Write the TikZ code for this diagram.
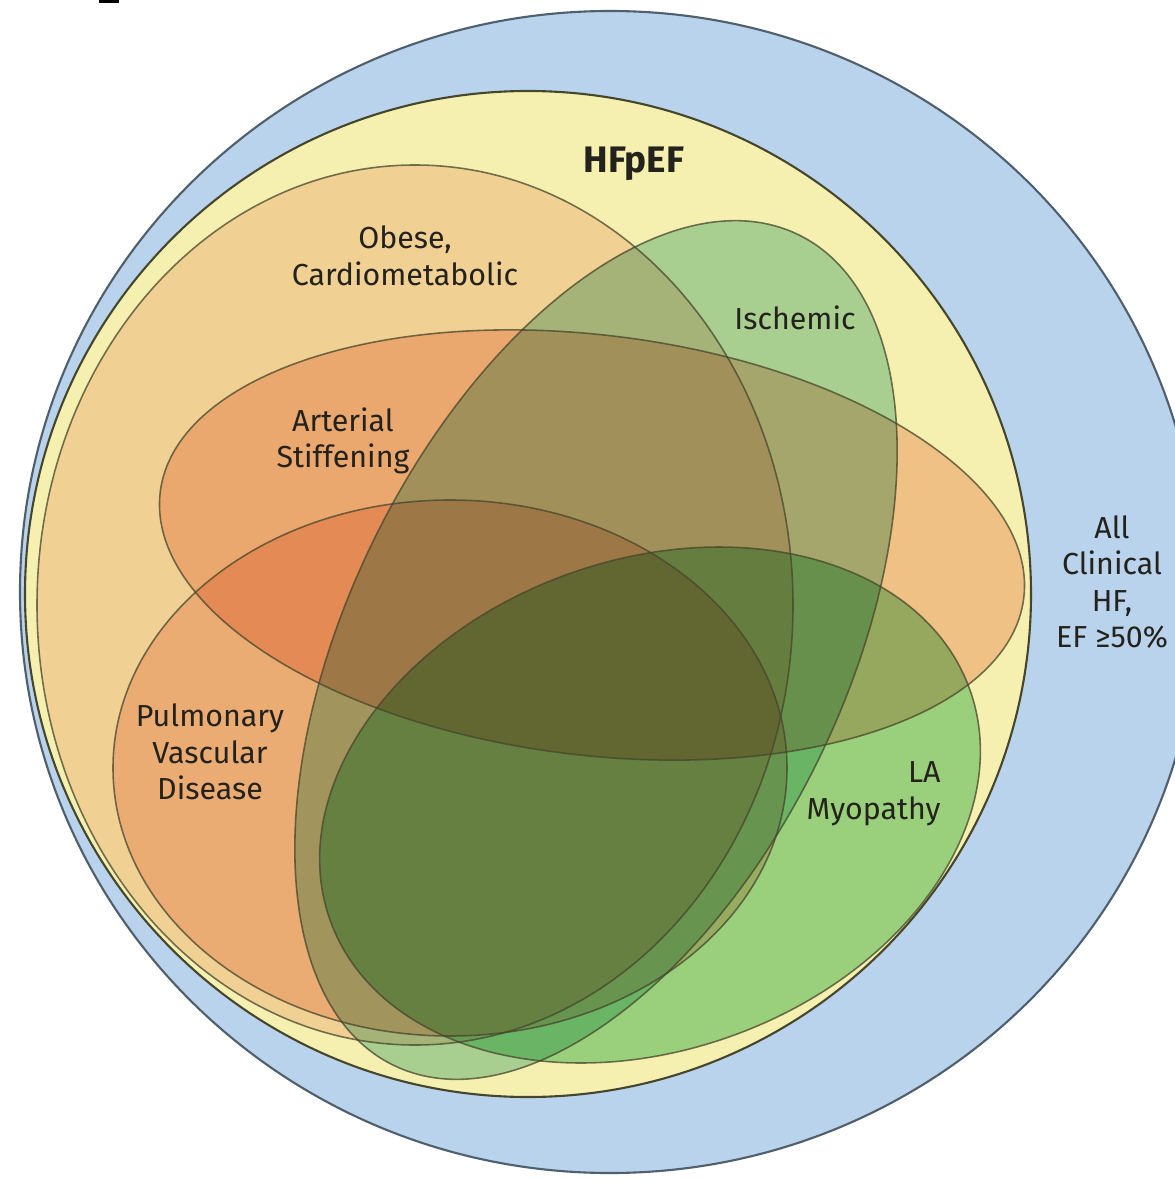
\documentclass[tikz,border=0pt]{standalone}
\usepackage{fontspec}
\setmainfont{Fira Sans}
\definecolor{allhf}{RGB}{186,211,236}
\definecolor{allhfline}{RGB}{79,95,108}
\definecolor{hfpef}{RGB}{246,240,176}
\definecolor{obesec}{RGB}{249,222,214}
\definecolor{arterialc}{RGB}{249,206,192}
\definecolor{pulmc}{RGB}{249,211,198}
\definecolor{ischc}{RGB}{176,220,210}
\definecolor{lac}{RGB}{160,222,180}
\definecolor{edge}{RGB}{70,70,45}
\definecolor{labelc}{RGB}{36,34,28}
\begin{document}
\begin{tikzpicture}[x=0.02cm,y=-0.02cm,
  ring/.style={line width=1.2pt},
  phen/.style={blend mode=multiply},
  rim/.style={draw=edge,line width=0.9pt,draw opacity=0.75},
  lbl/.style={text=labelc,align=center,font=\fontsize{17.3}{20.8}\selectfont,inner sep=0pt}]
\useasboundingbox (0,0) rectangle (1175,1179);
\fill[white] (0,0) rectangle (1175,1179);
\fill (99,0) rectangle (119,3);
% all clinical HF with EF of 50% or more
\draw[ring,fill=allhf,draw=allhfline] (610,592) ellipse [x radius=590,y radius=581];
% HFpEF
\draw[ring,fill=hfpef,draw=edge] (528,594) circle [radius=503];
% phenotype shapes
\def\obeseshape{(415,605) ellipse [x radius=378,y radius=440]}
\def\artshape{[rotate around={-7:(592,545)}] (592,545) ellipse [x radius=435,y radius=210]}
\def\pulmshape{(450,768) ellipse [x radius=337,y radius=268]}
\def\ischshape{[rotate around={64:(596,650)}] (596,650) ellipse [x radius=462,y radius=248]}
\def\lashape{[rotate around={20:(650,805)}] (650,805) ellipse [x radius=340,y radius=245]}
% fills first
\fill[phen,obesec] \obeseshape;
\fill[phen,arterialc] \artshape;
\fill[phen,pulmc] \pulmshape;
\fill[phen,ischc] \ischshape;
\fill[phen,lac] \lashape;
% outlines on top
\draw[rim] \obeseshape;
\draw[rim] \artshape;
\draw[rim] \pulmshape;
\draw[rim] \ischshape;
\draw[rim] \lashape;
% labels
\node[lbl,font=\fontsize{21}{24}\selectfont\bfseries] (hf) at (634,164) {HFpEF};
\node[lbl] (ob) at (405,256) {Obese,\\Cardiometabolic};
\node[lbl] (is) at (795,318) {Ischemic};
\node[lbl] (ar) at (343,441) {Arterial\\Stiffening};
\node[lbl] (pv) at (210,752) {Pulmonary\\Vascular\\Disease};
\node[lbl,align=right,anchor=east] (la) at (941,794) {LA\\Myopathy};
\node[lbl] (all) at (1112,582) {All\\Clinical\\HF,\\EF ≥50\%};
\end{tikzpicture}
\end{document}
